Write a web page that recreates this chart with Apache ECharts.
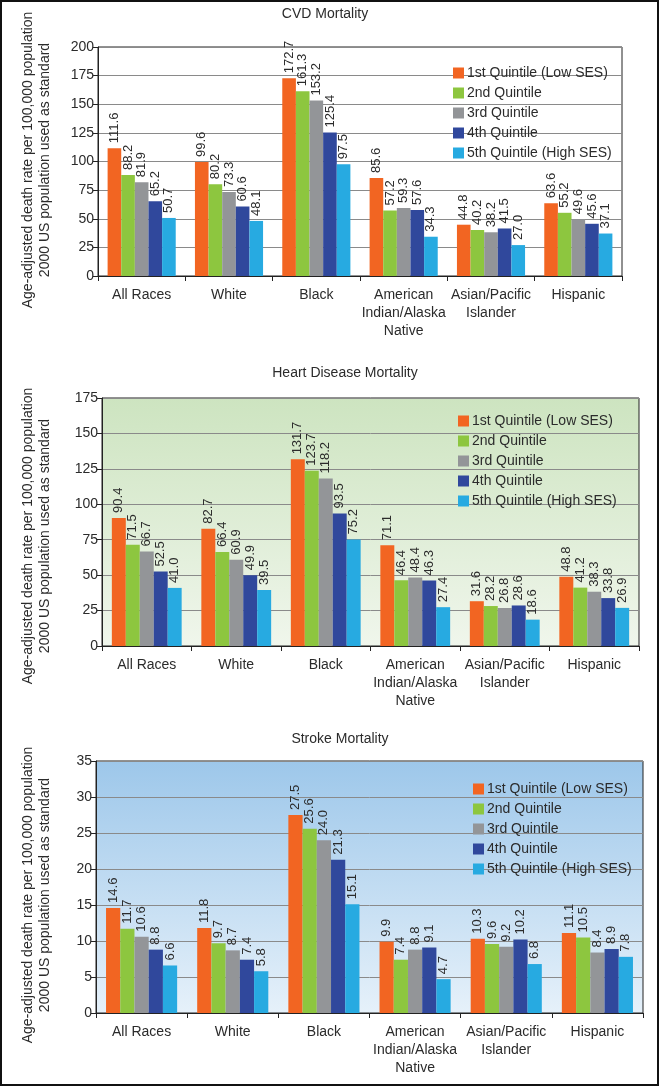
<!DOCTYPE html>
<html>
<head>
<meta charset="utf-8">
<script src="https://cdn.jsdelivr.net/npm/echarts@6/dist/echarts.min.js"></script>
<style>
    html, body { margin: 0; padding: 0; background: #fff; }
    #chart { width: 663px; height: 1087px; }
</style>
</head>
<body>
<div id="chart"></div>
<script>
// categories along the x axis
const races = ["All Races", "White", "Black", "American\nIndian/Alaska\nNative", "Asian/Pacific\nIslander", "Hispanic"];
const quintiles = ["1st Quintile (Low SES)", "2nd Quintile", "3rd Quintile", "4th Quintile", "5th Quintile (High SES)"];
const quintileColors = ["#f26522", "#8dc63f", "#939598", "#30489c", "#27aae1"];

// one row per quintile, one value per race
const cvdValues = [
    [111.6, 99.6, 172.7, 85.6, 44.8, 63.6],
    [88.2, 80.2, 161.3, 57.2, 40.2, 55.2],
    [81.9, 73.3, 153.2, 59.3, 38.2, 49.6],
    [65.2, 60.6, 125.4, 57.6, 41.5, 45.6],
    [50.7, 48.1, 97.5, 34.3, 27.0, 37.1]
];
const heartValues = [
    [90.4, 82.7, 131.7, 71.1, 31.6, 48.8],
    [71.5, 66.4, 123.7, 46.4, 28.2, 41.2],
    [66.7, 60.9, 118.2, 48.4, 26.8, 38.3],
    [52.5, 49.9, 93.5, 46.3, 28.6, 33.8],
    [41.0, 39.5, 75.2, 27.4, 18.6, 26.9]
];
const strokeValues = [
    [14.6, 11.8, 27.5, 9.9, 10.3, 11.1],
    [11.7, 9.7, 25.6, 7.4, 9.6, 10.5],
    [10.6, 8.7, 24.0, 8.8, 9.2, 8.4],
    [8.8, 7.4, 21.3, 9.1, 10.2, 8.9],
    [6.6, 5.8, 15.1, 4.7, 6.8, 7.8]
];

const titles = ["CVD Mortality", "Heart Disease Mortality", "Stroke Mortality"];
const yMax = [200, 175, 35];
const yStep = [25, 25, 5];
const yAxisTitle = "Age-adjusted death rate per 100,000 population\n2000 US population used as standard";

const font = "Liberation Sans, Arial, sans-serif";
const textColor = "#2b2b2b";

// layout of the three panels
const panels = [
    {grid: {left: 98, top: 47, width: 524, height: 229}, legend: {left: 448, top: 61},
        titleX: 325, titleY: 14, nameY: 160, bg: "#ffffff"},
    {grid: {left: 102, top: 398, width: 537, height: 248}, legend: {left: 453, top: 409},
        titleX: 345, titleY: 373, nameY: 536,
        bg: {type: "linear", x: 0, y: 0, x2: 0, y2: 1, colorStops: [
            {offset: 0, color: "#cde4c0"}, {offset: 1, color: "#f0f6ec"}]}},
    {grid: {left: 96, top: 761, width: 547, height: 252}, legend: {left: 468, top: 777},
        titleX: 340, titleY: 739, nameY: 895,
        bg: {type: "linear", x: 0, y: 0, x2: 0, y2: 1, colorStops: [
            {offset: 0, color: "#9dc7ea"}, {offset: 1, color: "#e6f1fa"}]}}
];
const panelValues = [cvdValues, heartValues, strokeValues];

let grids = [], xAxes = [], yAxes = [], legends = [], series = [], graphics = [];

panels.forEach(function (p, i) {
    grids.push(Object.assign({
        show: true,
        backgroundColor: p.bg,
        borderColor: "#222",
        borderWidth: 1,
        containLabel: false
    }, p.grid));

    xAxes.push({
        type: "category",
        gridIndex: i,
        data: races,
        axisLine: {lineStyle: {color: "#222", width: 1}},
        axisTick: {show: true, length: 5, lineStyle: {color: "#222"}},
        axisLabel: {
            color: textColor, fontSize: 14, fontFamily: font,
            margin: 10, lineHeight: 18, interval: 0
        }
    });

    yAxes.push({
        type: "value",
        gridIndex: i,
        min: 0,
        max: yMax[i],
        interval: yStep[i],
        axisLine: {show: true, lineStyle: {color: "#222", width: 1}},
        axisTick: {show: true, length: 5, lineStyle: {color: "#222"}},
        axisLabel: {color: textColor, fontSize: 14, fontFamily: font, margin: 4},
        splitLine: {show: true, lineStyle: {color: "#8a8a8a", width: 1}}
    });

    legends.push({
        orient: "vertical",
        left: p.legend.left,
        top: p.legend.top,
        itemWidth: 11,
        itemHeight: 11,
        itemGap: 6,
        icon: "rect",
        selectedMode: false,
        data: quintiles,
        textStyle: {color: textColor, fontSize: 14, fontFamily: font, padding: [0, 0, 0, -2]}
    });

    panelValues[i].forEach(function (row, q) {
        series.push({
            name: quintiles[q],
            type: "bar",
            xAxisIndex: i,
            yAxisIndex: i,
            data: row,
            barGap: "0%",
            barCategoryGap: "22%",
            itemStyle: {color: quintileColors[q]},
            label: {
                show: true,
                position: "top",
                distance: 5,
                rotate: 90,
                align: "left",
                verticalAlign: "middle",
                color: textColor,
                fontSize: 13,
                fontFamily: font,
                formatter: function (d) {
                    return Number(d.value).toFixed(1);
                }
            }
        });
    });

    graphics.push({
        type: "text",
        x: p.titleX,
        y: p.titleY,
        style: {
            text: titles[i], fill: textColor, fontSize: 14, fontFamily: font,
            align: "center", verticalAlign: "middle"
        }
    });
    graphics.push({
        type: "text",
        x: 37,
        y: p.nameY,
        rotation: Math.PI / 2,
        style: {
            text: yAxisTitle, fill: textColor, fontSize: 14, fontFamily: font,
            lineHeight: 17, align: "center", verticalAlign: "middle"
        }
    });
});

// outer frame of the figure
graphics.push({
    type: "rect",
    shape: {x: 1, y: 1, width: 657, height: 1084},
    style: {fill: null, stroke: "#111", lineWidth: 2}
});

const chart = echarts.init(document.getElementById("chart"), null, {renderer: "canvas"});
chart.setOption({
    animation: false,
    backgroundColor: "#ffffff",
    grid: grids,
    xAxis: xAxes,
    yAxis: yAxes,
    legend: legends,
    series: series,
    graphic: graphics
});
</script>
</body>
</html>
